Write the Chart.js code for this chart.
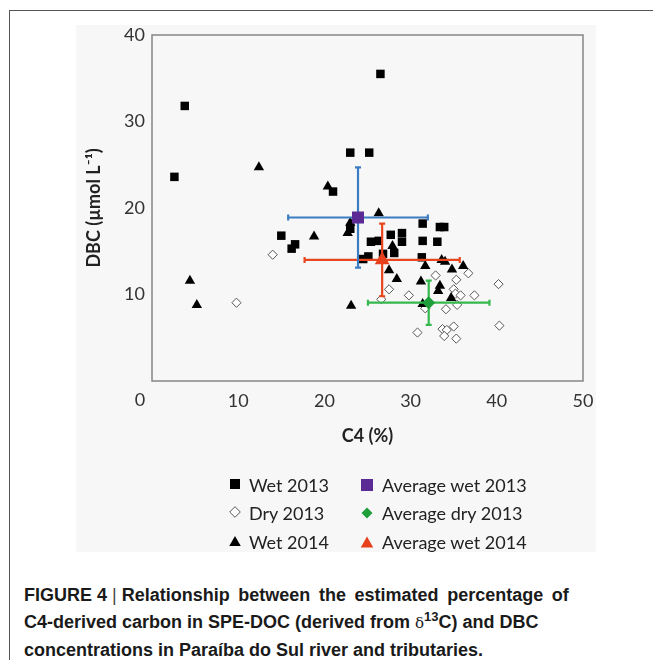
<!DOCTYPE html>
<html>
<head>
<meta charset="utf-8">
<script src="https://cdn.jsdelivr.net/npm/chart.js@4.4.1/dist/chart.umd.min.js"></script>
<style>
  html, body { margin: 0; padding: 0; background: #fff; }
  body { width: 653px; height: 660px; position: relative; overflow: hidden; }
  #frame { position: absolute; left: 9px; top: 10px; right: -4px; bottom: -4px;
           border-left: 1.5px solid #555; border-top: 1.5px solid #555; }
  #panel { position: absolute; left: 76px; top: 25px; width: 520px; height: 527px; background: #f7f7f7; }
  #panel canvas { position: absolute; left: 0; top: 0; }
  #legend { position: absolute; left: 0; top: 0; width: 520px; height: 527px; pointer-events: none;
            font-family: Lato, "Open Sans", sans-serif; font-size: 18px; color: #222; }
  .item { position: absolute; height: 24px; line-height: 24px; white-space: nowrap; }
  .item svg { position: absolute; top: 5px; }
  .item span { position: absolute; top: 0; }
  .caption { position: absolute; left: 24px; top: 582px; width: 620px;
             font-family: "Liberation Sans Narrow", "Liberation Sans", Arial, sans-serif;
             font-weight: bold; font-size: 18px; line-height: 27px; color: #1a1a1a; }
  .caption .wide { word-spacing: 3.6px; }
  .caption .bar { font-weight: normal; color: #444; }
  .caption .delta { font-weight: normal; font-family: "DejaVu Serif", serif; font-size: 15px; }
  .caption sup { font-size: 13px; line-height: 0; }
</style>
</head>
<body>
<div id="frame"></div>
<div id="panel">
  <canvas id="scatter" width="520" height="440"></canvas>
  <div id="legend"></div>
</div>
<div class="caption">FIGURE 4 <span class="bar">|</span> <span class="wide">Relationship between the estimated percentage of</span><br>C4-derived carbon in SPE-DOC (derived from <span class="delta">&#948;</span><sup>13</sup>C) and DBC<br>concentrations in Paraíba do Sul river and tributaries.</div>

<script>
// C4 share (%) and DBC (µmol L-1) per sample
const wet2013C4  = [2.6, 3.8, 26.5, 23.0, 25.2, 21.0, 15.0, 16.2, 16.6, 23.0, 27.7, 29.0, 29.0,
                    25.4, 26.3, 31.4, 33.4, 33.9, 31.4, 33.1, 25.1, 24.5, 26.8, 28.1, 31.3];
const wet2013DBC = [23.6, 31.8, 35.5, 26.4, 26.4, 21.9, 16.8, 15.3, 15.8, 17.6, 16.9, 17.1, 16.1,
                    16.1, 16.2, 18.2, 17.8, 17.8, 16.2, 16.1, 14.4, 14.1, 14.7, 14.8, 14.3];

const dry2013C4  = [14.0, 9.8, 36.7, 32.9, 35.3, 27.5, 26.6, 29.8, 35.0, 35.2, 35.8, 37.4,
                    34.1, 35.4, 31.7, 40.2, 40.3, 30.8, 33.7, 34.2, 35.0, 33.9, 35.3];
const dry2013DBC = [14.6, 9.05, 12.45, 12.2, 11.7, 10.6, 9.45, 9.9, 10.6, 10.1, 9.9, 9.9,
                    8.3, 8.8, 8.4, 11.2, 6.4, 5.6, 6.0, 5.9, 6.3, 5.2, 4.9];

const wet2014C4  = [12.4, 4.4, 5.2, 18.8, 20.4, 26.3, 23.0, 22.7, 27.9, 27.5, 28.4, 31.7,
                    33.6, 34.0, 34.8, 36.1, 31.2, 33.4, 33.2, 34.7, 31.4, 23.1];
const wet2014DBC = [24.7, 11.6, 8.8, 16.7, 22.5, 19.4, 18.3, 17.1, 15.6, 12.8, 11.8, 13.3,
                    14.0, 13.8, 12.9, 13.3, 11.5, 11.0, 10.4, 9.6, 8.9, 8.7];

// group means with their standard deviations
const avgLabels = ['Average wet 2013', 'Average dry 2013', 'Average wet 2014'];
const avgC4     = [23.9, 32.1, 26.7];
const avgDBC    = [18.9, 9.05, 14.0];
const avgC4Sd   = [8.1, 7.05, 9.0];
const avgDBCSd  = [5.8, 2.55, 4.2];

const xTicks = [0, 10, 20, 30, 40, 50];
const yTicks = [0, 10, 20, 30, 40];

const zip = (xs, ys) => xs.map((v, i) => ({ x: v, y: ys[i] }));

const avgStyle = [
  { shape: 'rect',     color: '#5b2a94', bar: '#3b7cc2', radius: 8.5 },
  { shape: 'rectRot',  color: '#1f9e3c', bar: '#35b84c', radius: 6.5 },
  { shape: 'triangle', color: '#e7401c', bar: '#e8461e', radius: 8.5 }
];

const avgSets = avgLabels.map((label, i) => ({
  label,
  data: [{ x: avgC4[i], y: avgDBC[i], xSd: avgC4Sd[i], ySd: avgDBCSd[i] }],
  pointStyle: avgStyle[i].shape,
  pointRadius: avgStyle[i].radius,
  backgroundColor: avgStyle[i].color,
  borderColor: avgStyle[i].color,
  borderWidth: 0,
  barColor: avgStyle[i].bar,
  order: 0
}));

const sampleSets = [
  { label: 'Wet 2013', data: zip(wet2013C4, wet2013DBC), pointStyle: 'rect', pointRadius: 6,
    backgroundColor: '#000', borderColor: '#000', borderWidth: 0, order: 3 },
  { label: 'Dry 2013', data: zip(dry2013C4, dry2013DBC), pointStyle: 'rectRot', pointRadius: 4.6,
    backgroundColor: '#fff', borderColor: '#555', borderWidth: 1, order: 2 },
  { label: 'Wet 2014', data: zip(wet2014C4, wet2014DBC), pointStyle: 'triangle', pointRadius: 6,
    backgroundColor: '#000', borderColor: '#000', borderWidth: 0, order: 1 }
];

// error bars go under each mean marker
const errorBars = {
  id: 'errorBars',
  beforeDatasetDraw(chart, args) {
    const ds = chart.data.datasets[args.index];
    if (!ds.barColor) return;
    const { ctx, scales: { x, y } } = chart;
    const cap = 3;
    ctx.save();
    ctx.strokeStyle = ds.barColor;
    ctx.lineWidth = 2.2;
    ds.data.forEach(p => {
      const cx = x.getPixelForValue(p.x), cy = y.getPixelForValue(p.y);
      const x0 = x.getPixelForValue(p.x - p.xSd), x1 = x.getPixelForValue(p.x + p.xSd);
      const y0 = y.getPixelForValue(p.y - p.ySd), y1 = y.getPixelForValue(p.y + p.ySd);
      ctx.beginPath();
      ctx.moveTo(x0, cy); ctx.lineTo(x1, cy);
      ctx.moveTo(x0, cy - cap); ctx.lineTo(x0, cy + cap);
      ctx.moveTo(x1, cy - cap); ctx.lineTo(x1, cy + cap);
      ctx.moveTo(cx, y0); ctx.lineTo(cx, y1);
      ctx.moveTo(cx - cap, y0); ctx.lineTo(cx + cap, y0);
      ctx.moveTo(cx - cap, y1); ctx.lineTo(cx + cap, y1);
      ctx.stroke();
    });
    ctx.restore();
  }
};

// closed plot box plus the shared "0" at the corner
const plotFrame = {
  id: 'plotFrame',
  beforeDatasetsDraw(chart) {
    const { ctx, chartArea: a } = chart;
    ctx.save();
    ctx.strokeStyle = '#868686';
    ctx.lineWidth = 1.5;
    ctx.strokeRect(a.left, a.top, a.right - a.left, a.bottom - a.top);
    ctx.fillStyle = '#333';
    ctx.font = '18px Lato, "Open Sans", sans-serif';
    ctx.textAlign = 'center';
    ctx.textBaseline = 'middle';
    ctx.fillText(String(xTicks[0]), a.left - 12, a.bottom + 19);
    ctx.restore();
  }
};

const tickFont = { family: 'Lato, "Open Sans", sans-serif', size: 18 };
const titleFont = { family: 'Lato, "Open Sans", sans-serif', size: 18, weight: 'bold' };

const chart = new Chart(document.getElementById('scatter'), {
  type: 'scatter',
  data: { datasets: [...sampleSets, ...avgSets] },
  options: {
    responsive: false,
    animation: false,
    layout: { padding: { left: 0, top: 10, right: 13, bottom: 0 } },
    plugins: { legend: { display: false }, tooltip: { enabled: false } },
    scales: {
      x: {
        type: 'linear', min: 0, max: 50,
        afterBuildTicks: s => { s.ticks = xTicks.map(v => ({ value: v })); },
        // fixed band height; end labels may overhang the plot box
        afterFit: s => { s.height = 84; s.paddingLeft = 0; s.paddingRight = 0; },
        grid: { display: false, drawTicks: false },
        border: { display: false },
        ticks: { color: '#333', font: tickFont, padding: 9,
                 callback: v => (v === 0 ? '' : v) },
        title: { display: true, text: 'C4 (%)', color: '#222', font: titleFont,
                 padding: { top: 0, bottom: 18 } }
      },
      y: {
        type: 'linear', min: 0, max: 40,
        afterBuildTicks: s => { s.ticks = yTicks.map(v => ({ value: v })); },
        afterFit: s => { s.width = 76; s.paddingTop = 0; s.paddingBottom = 0; },
        grid: { display: false, drawTicks: false },
        border: { display: false },
        ticks: { color: '#333', font: tickFont, padding: 7,
                 callback: v => (v === 0 ? '' : v) },
        title: { display: true, text: 'DBC (µmol L⁻¹)', color: '#222', font: titleFont,
                 padding: { top: 7, bottom: 0 } }
      }
    }
  },
  plugins: [errorBars, plotFrame]
});

// two-column legend built from the datasets
const legendSlots = [
  { set: 0, col: 0, row: 0 }, { set: 3, col: 1, row: 0 },
  { set: 1, col: 0, row: 1 }, { set: 4, col: 1, row: 1 },
  { set: 2, col: 0, row: 2 }, { set: 5, col: 1, row: 2 }
];
const colX = [{ mark: 159, text: 173 }, { mark: 291, text: 306 }];
const rowY = [448, 476, 505];

function markerSvg(ds) {
  const big = !!ds.barColor;
  const s = big ? 14 : 12;
  const fill = ds.backgroundColor, stroke = ds.borderColor;
  let shape;
  if (ds.pointStyle === 'rect') {
    const w = big ? 12 : 10, o = (s - w) / 2;
    shape = `<rect x="${o}" y="${o}" width="${w}" height="${w}" fill="${fill}"/>`;
  } else if (ds.pointStyle === 'rectRot') {
    const r = big ? 5.5 : 5.3, c = s / 2;
    shape = `<polygon points="${c},${c - r} ${c + r},${c} ${c},${c + r} ${c - r},${c}" fill="${fill}"
             stroke="${ds.borderWidth ? stroke : 'none'}" stroke-width="1"/>`;
  } else {
    const h = big ? 11 : 10, w = big ? 12.5 : 11.5, c = s / 2;
    shape = `<polygon points="${c},${c - h / 2} ${c + w / 2},${c + h / 2} ${c - w / 2},${c + h / 2}" fill="${fill}"/>`;
  }
  return `<svg width="${s}" height="${s}" style="left:${-s / 2}px">${shape}</svg>`;
}

const legendEl = document.getElementById('legend');
legendSlots.forEach(slot => {
  const ds = chart.data.datasets[slot.set];
  const item = document.createElement('div');
  item.className = 'item';
  item.style.left = colX[slot.col].mark + 'px';
  item.style.top = rowY[slot.row] + 'px';
  item.innerHTML = markerSvg(ds) +
    `<span style="left:${colX[slot.col].text - colX[slot.col].mark}px">${ds.label}</span>`;
  legendEl.appendChild(item);
});
</script>
</body>
</html>
